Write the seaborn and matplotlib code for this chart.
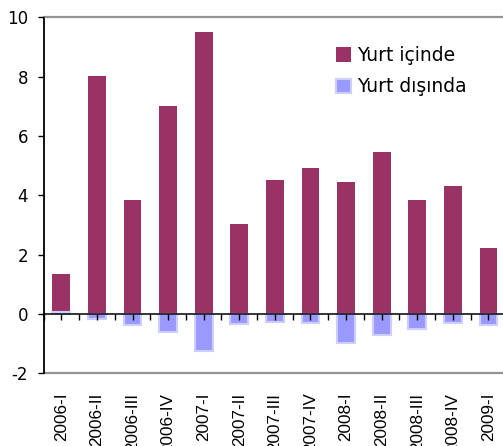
import matplotlib
matplotlib.use("Agg")
import matplotlib.pyplot as plt
from matplotlib.patches import Patch
import pandas as pd
import seaborn as sns

# Quarterly values
quarters = ["2006-I", "2006-II", "2006-III", "2006-IV",
            "2007-I", "2007-II", "2007-III", "2007-IV",
            "2008-I", "2008-II", "2008-III", "2008-IV", "2009-I"]
yurt_icinde = [1.35, 8.03, 3.84, 7.02, 9.51, 3.04, 4.52, 4.92, 4.45, 5.46, 3.84, 4.32, 2.23]
yurt_disinda = [0.08, -0.17, -0.37, -0.60, -1.26, -0.33, -0.26, -0.31, -0.99, -0.72, -0.52, -0.31, -0.38]
y_ticks = [-2, 0, 2, 4, 6, 8, 10]
series_names = ["Yurt içinde", "Yurt dışında"]

MAROON = "#993366"
BLUE = "#9999ff"
BLUE_GLOW = "#cdcdff"
GREY = "#939393"

sns.set_style("white")
plt.rcParams["font.family"] = ["DejaVu Sans"]
plt.rcParams["axes.unicode_minus"] = False
plt.rcParams["text.color"] = "black"
plt.rcParams["xtick.color"] = "black"
plt.rcParams["ytick.color"] = "black"
plt.rcParams["xtick.labelcolor"] = "black"
plt.rcParams["ytick.labelcolor"] = "black"

df = pd.DataFrame({"quarter": quarters, "ic": yurt_icinde, "dis": yurt_disinda})

fig = plt.figure(figsize=(5.03, 4.46), dpi=100)
ax = fig.add_axes([0.0865, 0.163, 0.920, 0.798])

sns.barplot(data=df, x="quarter", y="ic", order=quarters, color=MAROON,
            saturation=1, width=0.5, ax=ax, linewidth=0)
sns.barplot(data=df, x="quarter", y="dis", order=quarters, color=BLUE,
            saturation=1, width=0.5, ax=ax, edgecolor=BLUE_GLOW, linewidth=1.5)

ax.set_xlim(-0.5, len(quarters) - 0.5)
ax.set_ylim(-2, 10)
ax.set_xlabel("")
ax.set_ylabel("")
ax.set_axisbelow(False)

# y axis
ax.set_yticks(y_ticks, labels=[str(v) for v in y_ticks])
ax.tick_params(axis="y", direction="out", length=4, width=1, color="black",
               labelcolor="black", pad=7, labelsize=12, left=True)

# zero line carries the tick marks
ax.spines["bottom"].set_position(("data", 0))
ax.spines["bottom"].set_color("black")
ax.spines["bottom"].set_linewidth(1.1)
ax.set_xticks(range(len(quarters)))
ax.set_xticks([i + 0.5 for i in range(-1, len(quarters))], minor=True)
ax.tick_params(axis="x", which="both", direction="out", length=4, width=1,
               color="black", bottom=True, labelbottom=False)

ax.spines["left"].set_color("black")
ax.spines["left"].set_linewidth(1.3)
ax.spines["top"].set_visible(True)
ax.spines["top"].set_color(GREY)
ax.spines["top"].set_linewidth(1.6)
ax.spines["right"].set_visible(False)

# category labels along the lower frame edge
sec = ax.secondary_xaxis("bottom")
sec.set_xticks(range(len(quarters)), labels=quarters)
sec.tick_params(length=0, pad=14, labelrotation=90, labelsize=12.3, labelcolor="black")
for lab in sec.get_xticklabels():
    lab.set_fontfamily("Liberation Sans")
sec.spines["bottom"].set_color(GREY)
sec.spines["bottom"].set_linewidth(1.6)

handles = [Patch(facecolor=MAROON, edgecolor="none", label=series_names[0]),
           Patch(facecolor=BLUE, edgecolor=BLUE_GLOW, linewidth=1.5, label=series_names[1])]
fig.legend(handles=handles, loc="upper left", bbox_to_anchor=(336 / 503, 1 - 46 / 446),
           frameon=False, fontsize=13.5, handlelength=0.8, handleheight=0.8,
           handletextpad=0.35, labelspacing=0.65, borderpad=0, borderaxespad=0,
           labelcolor="black")

fig.savefig("out.png", dpi=100)
